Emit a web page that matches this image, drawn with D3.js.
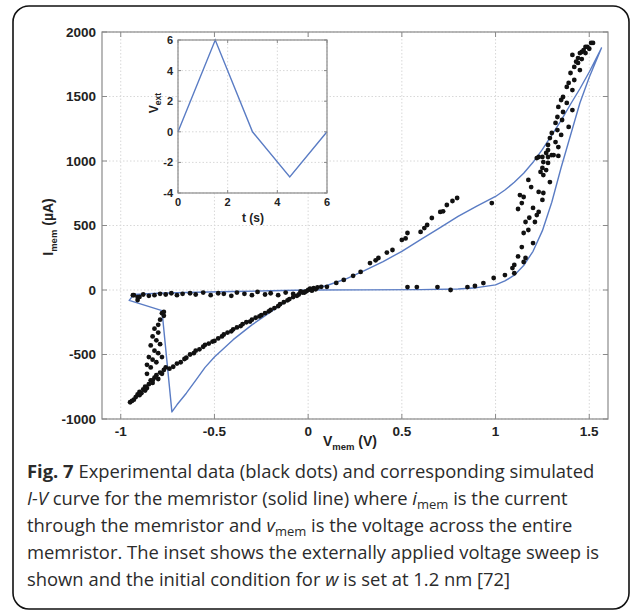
<!DOCTYPE html>
<html>
<head>
<meta charset="utf-8">
<script src="https://cdn.jsdelivr.net/npm/d3@7"></script>
<style>
  body { margin: 0; background: #fff; }
  svg { display: block; }
  .tick-label { font-family: "Liberation Sans", Arial, sans-serif; font-weight: bold; fill: #222; }
  .caption { font-family: "Open Sans", sans-serif; font-size: 18.4px; fill: #2b2b2b; }
</style>
</head>
<body>
<div id="chart"></div>
<script>
// main axes ticks
const xTicks = [-1, -0.5, 0, 0.5, 1, 1.5];
const yTicks = [-1000, -500, 0, 500, 1000, 1500, 2000];

// inset: applied voltage sweep
const insetT = [0, 1.5, 3, 4.5, 6];
const insetV = [0, 6, 0, -2.95, 0];
const insetXTicks = [0, 2, 4, 6];
const insetYTicks = [-4, -2, 0, 2, 4, 6];

// simulated I-V curve (path order)
const simV = [0, 0.1, 0.2, 0.3, 0.4, 0.5, 0.6, 0.7, 0.8, 0.9, 1.0, 1.05, 1.1, 1.15, 1.2, 1.25, 1.3, 1.35, 1.4, 1.45, 1.5, 1.565,
  1.5, 1.45, 1.4, 1.35, 1.3, 1.25, 1.2, 1.15, 1.1, 1.05, 1.0, 0.9, 0.8, 0.6, 0.3, 0,
  -0.1, -0.2, -0.3, -0.4, -0.5, -0.55, -0.6, -0.65, -0.7, -0.727, -0.78, -0.955, -0.93, -0.8, -0.6, -0.4, -0.2, 0];
const simI = [0, 35, 85, 150, 220, 300, 390, 480, 570, 650, 725, 775, 835, 905, 990, 1090, 1200, 1315, 1440, 1560, 1690, 1876,
  1650, 1450, 1200, 950, 680, 460, 300, 190, 115, 70, 40, 18, 8, 3, 1, 0,
  -70, -170, -270, -385, -520, -600, -700, -800, -890, -945, -160, -80, -35, -25, -18, -12, -6, 0];

// experimental data (black dots)
const expV = [
  // negative, upper row
  -0.93, -0.91, -0.88, -0.85, -0.82, -0.79, -0.76, -0.73, -0.7, -0.67, -0.63, -0.6, -0.56, -0.52,
  -0.48, -0.45, -0.41, -0.38, -0.34, -0.3, -0.27, -0.23, -0.2, -0.16, -0.12, -0.08, -0.04, -0.02,
  -0.935, -0.91, -0.9,
  // left cluster
  -0.95, -0.93, -0.92, -0.91, -0.9, -0.89, -0.88, -0.87, -0.86, -0.85, -0.84, -0.83, -0.82, -0.81,
  -0.8, -0.79, -0.78, -0.77, -0.94, -0.9, -0.87, -0.83,
  -0.78, -0.77, -0.79, -0.8, -0.82, -0.8, -0.83, -0.81, -0.79, -0.84, -0.82, -0.8, -0.85, -0.83,
  -0.81, -0.86, -0.84, -0.78, -0.76, -0.86, -0.77,
  // negative diagonal
  -0.74, -0.72, -0.7, -0.68, -0.66, -0.65, -0.63, -0.61, -0.6, -0.58, -0.56, -0.55, -0.53, -0.51,
  -0.5, -0.48, -0.46, -0.45, -0.43, -0.41, -0.4, -0.38, -0.36, -0.35, -0.33, -0.31, -0.3, -0.28,
  -0.26, -0.25, -0.23, -0.21, -0.2, -0.18, -0.16, -0.15, -0.13, -0.11, -0.1, -0.08, -0.06, -0.05,
  -0.03, -0.01,
  // near origin
  0, 0.01, 0.02, 0.03, -0.02, 0.05, 0.04, 0.07,
  // positive upper strand
  0.1, 0.15, 0.19, 0.24, 0.28, 0.33, 0.36, 0.375, 0.42, 0.45, 0.5, 0.52, 0.53, 0.6, 0.62, 0.635,
  0.66, 0.705, 0.72, 0.74, 0.77, 0.795,
  // positive lower row
  0.53, 0.58, 0.69, 0.76, 0.85, 0.89, 0.935, 0.99, 0.98,
  // rising cluster
  1.05, 1.09, 1.1, 1.15, 1.16, 1.14, 1.15, 1.175, 1.16, 1.2, 1.21, 1.22, 1.23, 1.2, 1.12, 1.14,
  1.15, 1.13, 1.19, 1.175, 1.23, 1.25, 1.255, 1.29, 1.24, 1.25, 1.255, 1.27, 1.28, 1.255, 1.28,
  1.3, 1.335, 1.25, 1.22, 1.1, 1.12, 1.18,
  // top cluster
  1.51, 1.49, 1.47, 1.45, 1.48, 1.44, 1.44, 1.42, 1.45, 1.4, 1.42, 1.39, 1.38, 1.41, 1.36, 1.35,
  1.38, 1.335, 1.41, 1.36, 1.33, 1.355, 1.32, 1.39, 1.33, 1.3, 1.35, 1.29, 1.32, 1.28, 1.335,
  1.28, 1.27, 1.23, 1.31, 1.41, 1.46, 1.48, 1.52, 1.5, 1.43, 1.46
];
const expI = [
  -40, -55, -35, -45, -40, -30, -35, -25, -40, -30, -25, -35, -20, -40,
  -25, -30, -45, -20, -30, -40, -15, -35, -25, -40, -20, -30, -10, -20,
  -40, -78, -54,
  -870, -850, -830, -810, -790, -800, -770, -750, -760, -730, -700, -720, -680, -660,
  -690, -640, -650, -620, -860, -815, -780, -700,
  -180, -200, -230, -270, -300, -330, -360, -390, -420, -430, -470, -490, -520, -540,
  -560, -580, -600, -520, -600, -650, -170,
  -610, -595, -570, -560, -535, -525, -500, -490, -470, -460, -440, -425, -415, -400,
  -395, -375, -360, -345, -330, -320, -305, -290, -280, -265, -250, -245, -230, -215,
  -205, -195, -180, -165, -155, -140, -125, -110, -95, -80, -70, -55, -45, -35,
  -20, -10,
  0, 10, -5, 15, -15, 20, 5, 25,
  25, 55, 78, 110, 140, 209, 230, 248, 290, 310, 388, 400, 442, 450, 480, 504,
  558, 605, 610, 659, 690, 713,
  23, 23, 23, 0, 23, 31, 54, 93, 674,
  116, 170, 194, 217, 248, 333, 442, 465, 527, 364, 527, 581, 605, 636, 628, 674,
  721, 736, 798, 853, 760, 698, 752, 837, 915, 946, 891, 930, 985, 992, 1031,
  1046, 1039, 1031, 1023, 130, 260, 560,
  1915, 1884, 1860, 1837, 1837, 1798, 1760, 1729, 1705, 1682, 1628, 1605, 1574, 1550, 1496, 1473,
  1450, 1419, 1395, 1380, 1341, 1318, 1295, 1264, 1240, 1217, 1202, 1178, 1147, 1124, 1108,
  1085, 1062, 1031, 1046, 1822, 1845, 1884, 1915, 1870, 1770, 1790
];

const W = 636, H = 613;
const svg = d3.select("#chart").append("svg")
  .attr("width", W).attr("height", H);

// caption frame
svg.append("rect")
  .attr("x", 13).attr("y", 6)
  .attr("width", 616).attr("height", 603)
  .attr("rx", 16).attr("ry", 16)
  .attr("fill", "none").attr("stroke", "#111").attr("stroke-width", 1.6);

// main plot
const plot = { left: 102, right: 608, top: 32, bottom: 419 };
const x = d3.scaleLinear().domain([-1.1, 1.6]).range([plot.left, plot.right]);
const y = d3.scaleLinear().domain([-1000, 2000]).range([plot.bottom, plot.top]);

function drawFrame(g, xs, ys, xt, yt, box, tickLen, fontSize, labelGap) {
  // grid
  g.append("g").selectAll("line").data(xt).join("line")
    .attr("x1", d => xs(d)).attr("x2", d => xs(d))
    .attr("y1", box.top).attr("y2", box.bottom)
    .attr("stroke", "#d8d8d8").attr("stroke-dasharray", "1.5,2");
  g.append("g").selectAll("line").data(yt).join("line")
    .attr("y1", d => ys(d)).attr("y2", d => ys(d))
    .attr("x1", box.left).attr("x2", box.right)
    .attr("stroke", "#d8d8d8").attr("stroke-dasharray", "1.5,2");

  // ticks on all four sides
  const tk = g.append("g").attr("stroke", "#8a8a8a").attr("stroke-width", 1);
  xt.forEach(d => {
    tk.append("line").attr("x1", xs(d)).attr("x2", xs(d)).attr("y1", box.bottom).attr("y2", box.bottom - tickLen);
    tk.append("line").attr("x1", xs(d)).attr("x2", xs(d)).attr("y1", box.top).attr("y2", box.top + tickLen);
  });
  yt.forEach(d => {
    tk.append("line").attr("y1", ys(d)).attr("y2", ys(d)).attr("x1", box.left).attr("x2", box.left + tickLen);
    tk.append("line").attr("y1", ys(d)).attr("y2", ys(d)).attr("x1", box.right).attr("x2", box.right - tickLen);
  });

  // tick labels
  g.append("g").selectAll("text").data(xt).join("text")
    .attr("class", "tick-label")
    .attr("x", d => xs(d)).attr("y", box.bottom + labelGap.x)
    .attr("text-anchor", "middle")
    .style("font-size", fontSize + "px")
    .text(d => d);
  g.append("g").selectAll("text").data(yt).join("text")
    .attr("class", "tick-label")
    .attr("x", box.left - labelGap.y).attr("y", d => ys(d) + fontSize * 0.36)
    .attr("text-anchor", "end")
    .style("font-size", fontSize + "px")
    .text(d => d);
}

const main = svg.append("g");
main.append("rect")
  .attr("x", plot.left).attr("y", plot.top)
  .attr("width", plot.right - plot.left).attr("height", plot.bottom - plot.top)
  .attr("fill", "#fff");
drawFrame(main, x, y, xTicks, yTicks, plot, 5, 13.5, { x: 17, y: 6 });

// simulated curve
const simLine = d3.line().x(d => x(d[0])).y(d => y(d[1]));
main.append("path")
  .datum(d3.zip(simV, simI))
  .attr("d", simLine)
  .attr("fill", "none")
  .attr("stroke", "#5a7cc4")
  .attr("stroke-width", 1.4)
  .attr("stroke-linejoin", "round");

// experimental dots
main.append("g").selectAll("circle")
  .data(d3.zip(expV, expI)).join("circle")
  .attr("cx", d => x(d[0])).attr("cy", d => y(d[1]))
  .attr("r", 2.4)
  .attr("fill", "#111");

// frame border
main.append("rect")
  .attr("x", plot.left).attr("y", plot.top)
  .attr("width", plot.right - plot.left).attr("height", plot.bottom - plot.top)
  .attr("fill", "none").attr("stroke", "#8a8a8a").attr("stroke-width", 1.2);

// axis labels
const xl = main.append("text")
  .attr("class", "tick-label")
  .attr("x", 350).attr("y", 446)
  .attr("text-anchor", "middle")
  .style("font-size", "14px");
xl.append("tspan").text("V");
xl.append("tspan").attr("dy", 4).style("font-size", "9.5px").text("mem");
xl.append("tspan").attr("dy", -4).text(" (V)");

const yl = main.append("text")
  .attr("class", "tick-label")
  .attr("transform", "translate(53,227) rotate(-90)")
  .attr("text-anchor", "middle")
  .style("font-size", "14px");
yl.append("tspan").text("I");
yl.append("tspan").attr("dy", 4).style("font-size", "9.5px").text("mem");
yl.append("tspan").attr("dy", -4).text("  (\u00b5A)");

// inset
const ibox = { left: 178, right: 327, top: 40, bottom: 193 };
const ix = d3.scaleLinear().domain([0, 6]).range([ibox.left, ibox.right]);
const iy = d3.scaleLinear().domain([-4, 6]).range([ibox.bottom, ibox.top]);
const inset = svg.append("g");
inset.append("rect")
  .attr("x", ibox.left).attr("y", ibox.top)
  .attr("width", ibox.right - ibox.left).attr("height", ibox.bottom - ibox.top)
  .attr("fill", "#fff");
drawFrame(inset, ix, iy, insetXTicks, insetYTicks, ibox, 3, 11, { x: 13, y: 5 });
inset.append("path")
  .datum(d3.zip(insetT, insetV))
  .attr("d", d3.line().x(d => ix(d[0])).y(d => iy(d[1])))
  .attr("fill", "none")
  .attr("stroke", "#5a7cc4")
  .attr("stroke-width", 1.4);
inset.append("rect")
  .attr("x", ibox.left).attr("y", ibox.top)
  .attr("width", ibox.right - ibox.left).attr("height", ibox.bottom - ibox.top)
  .attr("fill", "none").attr("stroke", "#8a8a8a").attr("stroke-width", 1.2);

inset.append("text")
  .attr("class", "tick-label")
  .attr("x", 253).attr("y", 222)
  .attr("text-anchor", "middle")
  .style("font-size", "12px")
  .text("t (s)");
const il = inset.append("text")
  .attr("class", "tick-label")
  .attr("transform", "translate(158,103) rotate(-90)")
  .attr("text-anchor", "middle")
  .style("font-size", "12px");
il.append("tspan").text("V");
il.append("tspan").attr("dy", 3).style("font-size", "8.5px").text("ext");

// caption
const capLines = [
  [["Fig. 7", "b"], [" Experimental data (black dots) and corresponding simulated", ""]],
  [["I-V", "i"], [" curve for the memristor (solid line) where ", ""], ["i", "i"], ["mem", "sub"], [" is the current", ""]],
  [["through the memristor and ", ""], ["v", "i"], ["mem", "sub"], [" is the voltage across the entire", ""]],
  [["memristor. The inset shows the externally applied voltage sweep is", ""]],
  [["shown and the initial condition for ", ""], ["w", "i"], [" is set at 1.2 nm [72]", ""]]
];
const capY = [478, 505, 532, 559, 586];
capLines.forEach((line, li) => {
  const t = svg.append("text").attr("class", "caption")
    .attr("x", 27).attr("y", capY[li]);
  let shifted = false;
  line.forEach(([txt, st]) => {
    const ts = t.append("tspan").text(txt);
    if (st === "b") ts.style("font-weight", "bold");
    if (st === "i") ts.style("font-style", "italic");
    if (st === "sub") {
      ts.attr("dy", 4).style("font-size", "13px");
      shifted = true;
    } else if (shifted) {
      ts.attr("dy", -4);
      shifted = false;
    }
  });
});
</script>
</body>
</html>
